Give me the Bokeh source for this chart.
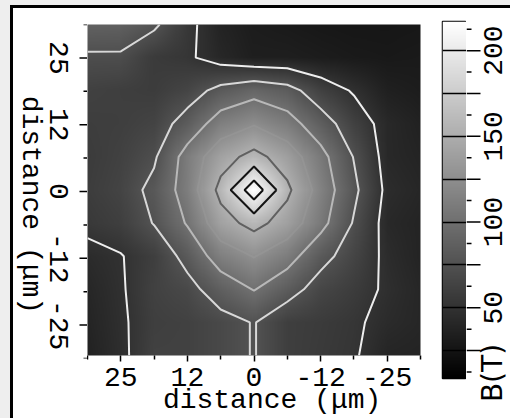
import math
import numpy as np
from bokeh.plotting import figure
from bokeh.layouts import row, column
from bokeh.models import Range1d, FixedTicker, LinearColorMapper, LinearAxis, Div
from bokeh.core.properties import value
from bokeh.palettes import gray
from bokeh.embed import file_html
from bokeh.resources import INLINE

# Sample grid (micrometres), 6.25 um pitch; columns listed left to right as drawn
x_um = [31.25, 25.0, 18.75, 12.5, 6.25, 0.0, -6.25, -12.5, -18.75, -25.0, -31.25]
# rows listed top to bottom
y_um = [31.25, 25.0, 18.75, 12.5, 6.25, 0.0, -6.25, -12.5, -18.75, -25.0, -31.25]

# Field B (T), one list per row of the grid
b_y_p3125 = [89, 88, 79, 55, 38, 32, 30, 28, 27, 27, 28]
b_y_p2500 = [72, 72, 57, 53, 41, 34, 34, 32, 30, 29, 30]
b_y_p1875 = [62, 60, 58, 65, 82, 92, 84, 62, 48, 35, 32]
b_y_p1250 = [59, 60, 64, 84, 112, 123, 110, 86, 62, 42, 36]
b_y_p0625 = [57, 62, 72, 110, 140, 158, 138, 108, 74, 42, 38]
b_y_0000 = [58, 64, 81, 111, 157, 217, 155, 115, 80, 45, 40]
b_y_m0625 = [55, 60, 76, 102, 140, 158, 139, 108, 73, 42, 38]
b_y_m1250 = [44, 49, 60, 82, 112, 126, 110, 82, 65, 45, 38]
b_y_m1875 = [40, 48, 62, 68, 86, 101, 84, 66, 58, 47, 40]
b_y_m2500 = [38, 47, 60, 62, 68, 76, 60, 57, 53, 44, 40]
b_y_m3125 = [36, 46, 62, 62, 68, 76, 60, 56, 52, 39, 38]

# Contour levels and their line colours
contour_levels = [50, 75, 100, 125, 150, 175, 200]
contour_colors = ["#eeeeee", "#d8d8d8", "#b8b8b8", "#949494", "#606060", "#141414", "#101010"]

# Axis ticks
axis_ticks = [-25.0, -12.5, 0.0, 12.5, 25.0]
axis_minor = [-31.25, -18.75, -6.25, 6.25, 18.75, 31.25]
axis_tick_text = ["-25", "-12", "0", "12", "25"]
axis_title = "distance (\u03bcm)"

# Colour scale
b_low, b_high = 8.7, 217.0
bar_ticks = [25, 50, 75, 100, 125, 150, 175, 200]
bar_minor = [12.5, 37.5, 62.5, 87.5, 112.5, 137.5, 162.5, 187.5, 212.5]
bar_labels_at = [50, 100, 150, 200]
bar_labels = ["50", "100", "150", "200"]
bar_title = "B(T)"

FONT = "Liberation Mono"
FS = "28px"

rows = [b_y_p3125, b_y_p2500, b_y_p1875, b_y_p1250, b_y_p0625, b_y_0000,
        b_y_m0625, b_y_m1250, b_y_m1875, b_y_m2500, b_y_m3125]
field = np.array(rows, dtype=float)[::-1, ::-1]      # ascending y, ascending x
xs = np.array(x_um)[::-1]
ys = np.array(y_um)[::-1]


def smooth_raster(grid, gx, gy, n=321):
    """Bilinear resampling of the grid, used only for the shaded raster."""
    fx = np.linspace(gx[0], gx[-1], n)
    fy = np.linspace(gy[0], gy[-1], n)
    along_x = np.array([np.interp(fx, gx, r) for r in grid])
    full = np.array([np.interp(fy, gy, c) for c in along_x.T]).T
    return full, fx[1] - fx[0], fy[1] - fy[0]


raster, step_x, step_y = smooth_raster(field, xs, ys)
mapper = LinearColorMapper(palette=gray(256), low=b_low, high=b_high)

H = 410          # height of every panel below the top rule
TOP, BOTTOM = 16, 60
TICK_W = 1.5


def panel(**kw):
    fig = figure(height=H, output_backend="svg", toolbar_location=None, **kw)
    fig.grid.visible = False
    fig.outline_line_color = None
    fig.border_fill_color = "white"
    fig.background_fill_color = "white"
    if "frame_align" in fig.properties():
        fig.frame_align = False      # each panel keeps its own plot area
    return fig


def style_axis(ax):
    ax.major_label_text_font = FONT
    ax.major_label_text_font_size = FS
    ax.major_label_text_color = "black"
    ax.axis_line_color = None
    ax.major_tick_line_color = "black"
    ax.minor_tick_line_color = "black"
    ax.major_tick_line_width = TICK_W
    ax.minor_tick_line_width = TICK_W
    ax.major_tick_in = 0
    ax.minor_tick_in = 0


# ---- main map ----
p = panel(width=343, x_range=Range1d(xs[-1], xs[0]), y_range=Range1d(ys[0], ys[-1]),
          y_axis_location=None,
          min_border_left=0, min_border_right=10, min_border_top=TOP, min_border_bottom=BOTTOM)
p.image(image=[raster], x=xs[0] - step_x / 2, y=ys[0] - step_y / 2,
        dw=(xs[-1] - xs[0]) + step_x, dh=(ys[-1] - ys[0]) + step_y, color_mapper=mapper)
p.contour(xs, ys, field, contour_levels, line_color=contour_colors, line_width=2)

xa = p.xaxis[0]
xa.ticker = FixedTicker(ticks=axis_ticks, minor_ticks=axis_minor)
xa.major_label_overrides = dict(zip(axis_ticks, axis_tick_text))
style_axis(xa)
xa.major_tick_out = 6
xa.minor_tick_out = 4
xa.major_label_standoff = 6

# bottom title, centred where it sits along the axis
x_title_at = -3.4
x_title = LinearAxis(ticker=FixedTicker(ticks=[x_title_at]), major_label_overrides={x_title_at: axis_title})
style_axis(x_title)
x_title.major_tick_line_color = None
x_title.minor_tick_line_color = None
x_title.major_tick_out = 0
x_title.minor_tick_out = 0
x_title.major_label_standoff = -4
p.add_layout(x_title, "below")

# ---- left strip: y ticks and rotated labels on the map's own y scale ----
LW = 74
ls = panel(width=LW, x_range=Range1d(0, LW), y_range=p.y_range,
           x_axis_location=None, y_axis_location=None,
           min_border_left=0, min_border_right=0, min_border_top=TOP, min_border_bottom=BOTTOM)
ls.segment(x0=LW - 8, x1=LW, y0=axis_ticks, y1=axis_ticks, line_color="black", line_width=TICK_W)
ls.segment(x0=LW - 4, x1=LW, y0=axis_minor, y1=axis_minor, line_color="black", line_width=TICK_W)
ls.text(x=[45] * len(axis_ticks), y=axis_ticks, text=axis_tick_text, angle=-math.pi / 2,
        text_align="center", text_baseline="middle", text_font=value(FONT),
        text_font_size=value(FS), text_color="black")
ls.text(x=[17], y=[-2.5], text=[axis_title], angle=-math.pi / 2,
        text_align="center", text_baseline="middle", text_font=value(FONT),
        text_font_size=value(FS), text_color="black")

# ---- colour bar ----
CB_TOP, CB_BOTTOM = 13, 40
cb = panel(width=36, x_range=Range1d(0, 1), y_range=Range1d(b_low, b_high),
           x_axis_location=None, y_axis_location=None,
           min_border_left=12, min_border_right=0, min_border_top=CB_TOP, min_border_bottom=CB_BOTTOM)
cb.outline_line_color = "black"
cb.outline_line_width = TICK_W
ramp = np.linspace(b_low, b_high, 256).reshape(256, 1)
cb.image(image=[ramp], x=0, y=b_low, dw=1, dh=b_high - b_low, color_mapper=mapper)
cb.hspan(y=bar_ticks, line_color="black", line_width=TICK_W)

# ---- right strip: colour bar ticks and labels on the bar's value scale ----
RW = 44
ppu = (H - CB_TOP - CB_BOTTOM) / (b_high - b_low)
rs = panel(width=RW, x_range=Range1d(0, RW),
           y_range=Range1d(b_low - CB_BOTTOM / ppu, b_high + CB_TOP / ppu),
           x_axis_location=None, y_axis_location=None,
           min_border_left=0, min_border_right=0, min_border_top=0, min_border_bottom=0)
rs.segment(x0=0, x1=14, y0=bar_ticks, y1=bar_ticks, line_color="black", line_width=TICK_W)
rs.segment(x0=0, x1=5, y0=bar_minor, y1=bar_minor, line_color="black", line_width=TICK_W)
rs.text(x=[26] * len(bar_labels), y=bar_labels_at, text=bar_labels, angle=math.pi / 2,
        text_align="center", text_baseline="middle", text_font=value(FONT),
        text_font_size=value(FS), text_color="black")
rs.text(x=[26], y=[11.9], text=[bar_title], angle=math.pi / 2,
        text_align="center", text_baseline="middle", text_font=value("DejaVu Sans"),
        text_font_size=value("28px"), text_color="black")

# ---- page frame: light margin with a dark rule along the top and the left ----
top_rule = Div(text="", width=510, height=8, margin=0,
               styles={"background": "linear-gradient(to right, #eeeeee 10px, transparent 10px), "
                                     "linear-gradient(to bottom, #eeeeee 5px, #000000 5px)"})
left_rule = Div(text="", width=13, height=H, margin=0,
                styles={"background": "linear-gradient(to right, #eeeeee 10px, #000000 10px)"})

layout = column(top_rule, row(left_rule, ls, p, cb, rs))
open("out.html", "w").write(file_html(layout, INLINE))
